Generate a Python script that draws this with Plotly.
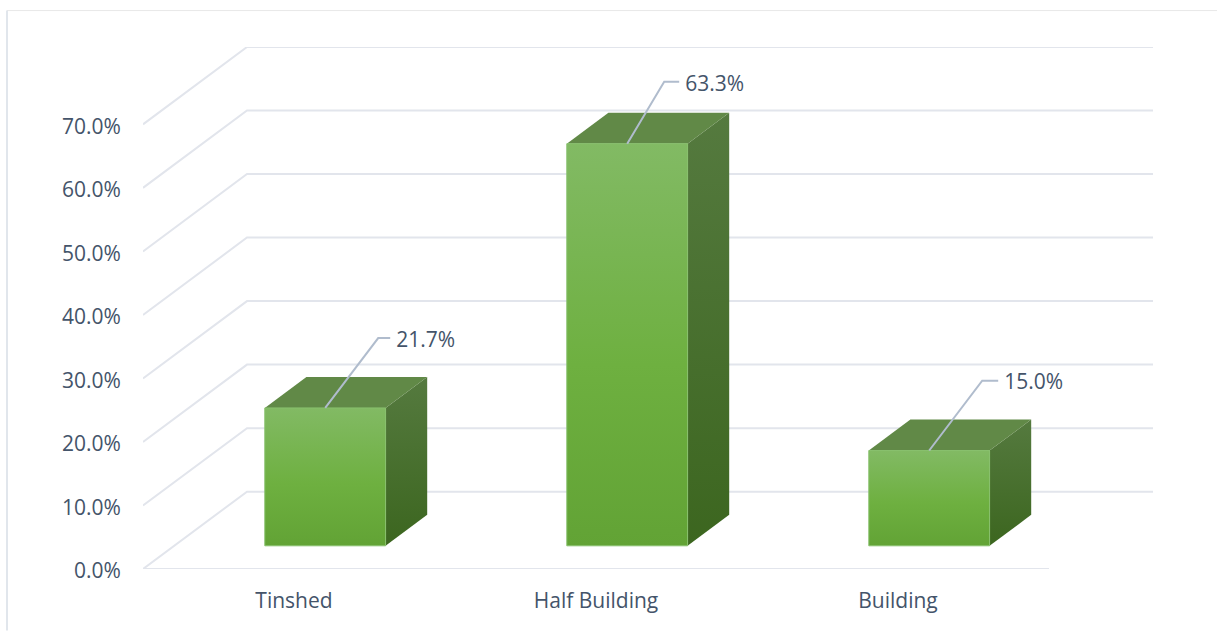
import plotly.graph_objects as go

# Chart values
categories = ["Tinshed", "Half Building", "Building"]
shares = [21.7, 63.3, 15.0]
tick_values = [0, 10, 20, 30, 40, 50, 60, 70]
tick_labels = ["0.0%", "10.0%", "20.0%", "30.0%", "40.0%", "50.0%", "60.0%", "70.0%"]

# Canvas and plot box, in pixels
WIDTH, HEIGHT = 1217, 631
LEFT, RIGHT, TOP, BOTTOM = 143, 1153, 46.5, 569.5

# Oblique depth of the floor, in axis units
DEPTH_X = 104 / 302
DEPTH_Y = 77.5 / 6.365
X_MIN, X_MAX = -0.5, 2.5 + DEPTH_X
Y_MAX = 70 + DEPTH_Y
PX_X = (RIGHT - LEFT) / (X_MAX - X_MIN)
PX_Y = (BOTTOM - TOP) / Y_MAX

# Bars sit between these fractions of the floor depth
BAR_NEAR, BAR_FAR = 0.3, 0.7
BAR_WIDTH = 0.4

# Leader geometry per bar: rise dx, rise dy, then horizontal run, in pixels
LEADERS = [(53, 70, 12), (37, 62, 15), (53, 70, 16)]

GRID = "#e2e5ec"
TEXT = "#44546a"
FONT = "Open Sans"
FONT_SIZE = 21

fig = go.Figure()


def depth_point(x, y, fraction):
    return x + DEPTH_X * fraction, y + DEPTH_Y * fraction


def face(corners, gradient=None, fill=None, edge=None):
    xs = [c[0] for c in corners] + [corners[0][0]]
    ys = [c[1] for c in corners] + [corners[0][1]]
    style = dict(
        x=xs, y=ys, mode="lines", fill="toself", hoverinfo="skip",
        line=dict(color=edge or "rgba(0,0,0,0)", width=1),
    )
    if gradient:
        style["fillgradient"] = dict(type="vertical", colorscale=gradient)
    else:
        style["fillcolor"] = fill
    fig.add_trace(go.Scatter(**style))


# Floor edge, side wall and back wall gridlines
for value in tick_values:
    back_left = depth_point(X_MIN, value, 1)
    back_right = depth_point(2.5, value, 1)
    fig.add_trace(go.Scatter(
        x=[X_MIN, back_left[0], back_right[0]],
        y=[value, back_left[1], back_right[1]],
        mode="lines", hoverinfo="skip", cliponaxis=False,
        line=dict(color=GRID, width=2),
    ))
fig.add_trace(go.Scatter(
    x=[X_MIN, 2.5], y=[0, 0], mode="lines", hoverinfo="skip", cliponaxis=False,
    line=dict(color=GRID, width=2),
))

# Each bar: side face, top face, then the front face
for i, value in enumerate(shares):
    x0 = i - BAR_WIDTH / 2
    x1 = i + BAR_WIDTH / 2
    fl0 = depth_point(x0, 0, BAR_NEAR)
    fr0 = depth_point(x1, 0, BAR_NEAR)
    fl1 = depth_point(x0, value, BAR_NEAR)
    fr1 = depth_point(x1, value, BAR_NEAR)
    br0 = depth_point(x1, 0, BAR_FAR)
    br1 = depth_point(x1, value, BAR_FAR)
    bl1 = depth_point(x0, value, BAR_FAR)

    face([fr0, br0, br1, fr1],
         gradient=[[0, "#3c661f"], [1, "#557a3f"]])
    face([fl1, fr1, br1, bl1], fill="#618947")
    face([fl0, fr0, fr1, fl1],
         gradient=[[0, "#62a335"], [0.45, "#6eb040"], [1, "#82ba64"]],
         edge="#88c06d")

# Leader lines and value labels
for i, value in enumerate(shares):
    start_x, start_y = depth_point(i, value, BAR_NEAR)
    rise_x, rise_y, run = LEADERS[i]
    elbow_x = start_x + rise_x / PX_X
    elbow_y = start_y + rise_y / PX_Y
    end_x = elbow_x + run / PX_X
    fig.add_trace(go.Scatter(
        x=[start_x, elbow_x, end_x], y=[start_y, elbow_y, elbow_y],
        mode="lines", hoverinfo="skip", cliponaxis=False,
        line=dict(color="#b0bccd", width=2),
    ))
    fig.add_trace(go.Scatter(
        x=[end_x + 6 / PX_X], y=[elbow_y - 3.5 / PX_Y], mode="text", hoverinfo="skip",
        text=[f"{value:.1f}%"], textposition="middle right", cliponaxis=False,
        textfont=dict(family=FONT, size=FONT_SIZE, color=TEXT),
    ))

fig.update_layout(
    width=WIDTH, height=HEIGHT, autosize=False,
    margin=dict(l=LEFT, r=WIDTH - RIGHT, t=TOP, b=HEIGHT - BOTTOM, pad=0),
    paper_bgcolor="white", plot_bgcolor="rgba(0,0,0,0)",
    showlegend=False,
    font=dict(family=FONT, size=FONT_SIZE, color=TEXT),
    xaxis=dict(
        range=[X_MIN, X_MAX], tickmode="array", tickvals=list(range(len(categories))),
        ticktext=categories, showgrid=False, zeroline=False, showline=False,
        ticks="outside", ticklen=13, tickcolor="rgba(0,0,0,0)",
    ),
    yaxis=dict(
        range=[0, Y_MAX], tickmode="array", tickvals=tick_values, ticktext=tick_labels,
        showgrid=False, zeroline=False, showline=False,
        ticks="outside", ticklen=17, tickcolor="rgba(0,0,0,0)",
        ticklabelshift=2,
    ),
)

# Frame along the top and left of the page
span_x = RIGHT - LEFT
span_y = BOTTOM - TOP
to_paper_x = lambda px: (px - LEFT) / span_x
to_paper_y = lambda px: (BOTTOM - px) / span_y
fig.add_shape(type="line", xref="paper", yref="paper", layer="below",
              x0=to_paper_x(7), x1=to_paper_x(WIDTH), y0=to_paper_y(10), y1=to_paper_y(10),
              line=dict(color="#e8e8e8", width=1))
fig.add_shape(type="line", xref="paper", yref="paper", layer="below",
              x0=to_paper_x(7), x1=to_paper_x(7), y0=to_paper_y(10), y1=to_paper_y(HEIGHT),
              line=dict(color="#e1e6ec", width=2))

fig.write_html("out.html")
